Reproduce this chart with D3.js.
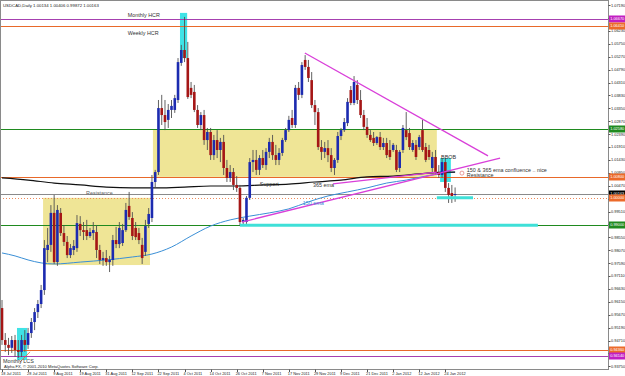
<!DOCTYPE html>
<html>
<head>
<meta charset="utf-8">
<style>
  body { margin: 0; background: #fff; }
  svg { display: block; font-family: "Liberation Sans", Arial, sans-serif; }
  .lbl { font-size: 5.4px; fill: #333; }
  .axis text { font-size: 3.9px; fill: #222; }
  .tag text { font-size: 3.9px; fill: #fff; }
</style>
</head>
<body>
<script src="https://d3js.org/d3.v7.min.js"></script>
<script>
// USDCAD daily, 18 Jul 2011 .. 27 Jan 2012, one row per bar: open, high, low, close
var ohlc = [
  [0.9592,0.9622,0.9455,0.9473],[0.9473,0.9499,0.9429,0.9455],[0.9455,0.9481,0.9417,0.9444],[0.9444,0.9488,0.9425,0.9473],
  [0.9473,0.9492,0.9410,0.9436],[0.9436,0.9473,0.9406,0.9429],[0.9429,0.9492,0.9410,0.9473],[0.9473,0.9510,0.9429,0.9455],
  [0.9455,0.9518,0.9440,0.9499],[0.9499,0.9555,0.9481,0.9540],[0.9540,0.9592,0.9510,0.9577],[0.9577,0.9622,0.9555,0.9607],
  [0.9607,0.9678,0.9592,0.9659],[0.9659,0.9845,0.9641,0.9815],[0.9808,0.9890,0.9763,0.9827],[0.9827,0.9975,0.9801,0.9946],
  [0.9946,1.0013,0.9756,0.9763],[0.9763,0.9975,0.9749,0.9957],[0.9946,0.9964,0.9860,0.9871],[0.9871,0.9901,0.9823,0.9838],
  [0.9838,0.9860,0.9778,0.9789],[0.9789,0.9830,0.9778,0.9815],[0.9808,0.9845,0.9789,0.9823],[0.9815,0.9938,0.9801,0.9908],
  [0.9905,0.9934,0.9860,0.9882],[0.9882,0.9912,0.9845,0.9875],[0.9882,0.9920,0.9845,0.9860],[0.9860,0.9890,0.9853,0.9875],
  [0.9871,0.9912,0.9845,0.9882],[0.9875,0.9901,0.9778,0.9808],[0.9808,0.9827,0.9756,0.9771],[0.9771,0.9801,0.9749,0.9778],
  [0.9778,0.9808,0.9749,0.9763],[0.9763,0.9786,0.9726,0.9771],[0.9771,0.9864,0.9749,0.9845],[0.9845,0.9894,0.9815,0.9830],
  [0.9830,0.9912,0.9815,0.9890],[0.9834,0.9905,0.9823,0.9882],[0.9882,0.9983,0.9875,0.9957],[0.9972,1.0024,0.9920,0.9931],
  [0.9927,0.9949,0.9845,0.9860],[0.9890,0.9912,0.9845,0.9856],[0.9871,0.9890,0.9830,0.9845],[0.9827,0.9853,0.9756,0.9778],
  [0.9801,0.9920,0.9786,0.9897],[0.9905,0.9964,0.9890,0.9942],[0.9927,1.0087,0.9912,1.0061],[1.0061,1.0106,1.0039,1.0098],
  [1.0098,1.0366,1.0087,1.0336],[1.0336,1.0385,1.0273,1.0310],[1.0310,1.0366,1.0254,1.0284],[1.0292,1.0351,1.0262,1.0329],
  [1.0329,1.0366,1.0299,1.0344],[1.0329,1.0385,1.0318,1.0373],[1.0366,1.0522,1.0355,1.0507],[1.0504,1.0571,1.0493,1.0552],
  [1.0552,1.0675,1.0507,1.0522],[1.0522,1.0582,1.0370,1.0377],[1.0411,1.0433,1.0373,1.0385],[1.0396,1.0422,1.0321,1.0329],
  [1.0329,1.0347,1.0262,1.0273],[1.0273,1.0321,1.0254,1.0310],[1.0310,1.0329,1.0199,1.0217],[1.0217,1.0262,1.0180,1.0247],
  [1.0247,1.0262,1.0143,1.0161],[1.0161,1.0236,1.0143,1.0217],[1.0217,1.0254,1.0150,1.0180],[1.0180,1.0225,1.0135,1.0210],
  [1.0210,1.0236,1.0087,1.0113],[1.0113,1.0143,1.0061,1.0076],[1.0076,1.0124,1.0061,1.0098],[1.0098,1.0113,1.0031,1.0050],
  [1.0050,1.0083,1.0024,1.0039],[1.0039,1.0050,0.9897,0.9912],[0.9912,0.9927,0.9897,0.9920],[0.9912,1.0009,0.9905,1.0002],
  [1.0002,1.0150,0.9994,1.0135],[1.0135,1.0180,1.0098,1.0143],[1.0143,1.0180,1.0087,1.0106],[1.0106,1.0161,1.0087,1.0150],
  [1.0150,1.0180,1.0113,1.0124],[1.0124,1.0187,1.0106,1.0173],[1.0173,1.0225,1.0150,1.0210],[1.0210,1.0236,1.0143,1.0161],
  [1.0161,1.0199,1.0124,1.0143],[1.0143,1.0187,1.0124,1.0169],[1.0169,1.0225,1.0158,1.0217],[1.0217,1.0262,1.0210,1.0254],
  [1.0254,1.0307,1.0247,1.0292],[1.0299,1.0329,1.0262,1.0273],[1.0273,1.0422,1.0262,1.0411],[1.0411,1.0433,1.0366,1.0385],
  [1.0385,1.0507,1.0373,1.0496],[1.0515,1.0533,1.0478,1.0489],[1.0489,1.0515,1.0433,1.0448],[1.0440,1.0470,1.0336,1.0347],
  [1.0347,1.0366,1.0273,1.0321],[1.0321,1.0336,1.0180,1.0191],[1.0191,1.0217,1.0143,1.0173],[1.0173,1.0210,1.0150,1.0187],
  [1.0187,1.0217,1.0135,1.0161],[1.0161,1.0187,1.0098,1.0113],[1.0113,1.0150,1.0087,1.0143],[1.0143,1.0247,1.0132,1.0232],
  [1.0232,1.0262,1.0217,1.0254],[1.0254,1.0299,1.0247,1.0284],[1.0280,1.0373,1.0269,1.0359],[1.0403,1.0418,1.0347,1.0355],
  [1.0355,1.0455,1.0347,1.0433],[1.0422,1.0440,1.0351,1.0366],[1.0366,1.0403,1.0299,1.0310],[1.0310,1.0329,1.0254,1.0266],
  [1.0266,1.0299,1.0225,1.0236],[1.0236,1.0254,1.0210,1.0217],[1.0225,1.0247,1.0195,1.0206],[1.0206,1.0232,1.0199,1.0228],
  [1.0228,1.0247,1.0180,1.0191],[1.0191,1.0225,1.0180,1.0206],[1.0206,1.0225,1.0150,1.0161],[1.0180,1.0217,1.0143,1.0154],
  [1.0180,1.0206,1.0173,1.0199],[1.0180,1.0199,1.0098,1.0106],[1.0113,1.0180,1.0098,1.0173],[1.0180,1.0273,1.0169,1.0262],
  [1.0254,1.0321,1.0217,1.0228],[1.0243,1.0262,1.0180,1.0191],[1.0180,1.0217,1.0173,1.0206],[1.0199,1.0217,1.0143,1.0154],
  [1.0191,1.0236,1.0180,1.0228],[1.0254,1.0292,1.0173,1.0180],[1.0191,1.0206,1.0135,1.0143],[1.0180,1.0199,1.0143,1.0154],
  [1.0113,1.0173,1.0098,1.0154],[1.0154,1.0180,1.0087,1.0098],[1.0098,1.0124,1.0076,1.0087],[1.0087,1.0150,1.0076,1.0135],
  [1.0135,1.0150,1.0024,1.0039],[1.0039,1.0057,0.9983,1.0013],[1.0020,1.0050,0.9983,1.0009],[1.00134,1.00406,0.99872,1.00163]
];

// date labels on the time axis and the bar they sit on
var dateLabels = ["18 Jul 2011","28 Jul 2011","9 Aug 2011","19 Aug 2011","31 Aug 2011","12 Sep 2011",
  "22 Sep 2011","4 Oct 2011","14 Oct 2011","26 Oct 2011","7 Nov 2011","17 Nov 2011","29 Nov 2011",
  "9 Dec 2011","21 Dec 2011","2 Jan 2012","12 Jan 2012","24 Jan 2012"];
var dateBars = [0,8,16,24,32,40,48,56,64,72,80,88,96,104,112,120,128,136];

// price scale labels
var priceTicks = [1.07190,1.06710,1.06230,1.05750,1.05270,1.04790,1.04310,1.03830,1.03350,1.02870,
  1.02390,1.01910,1.01430,1.00950,1.00470,0.99990,0.99510,0.99030,0.98550,0.98070,0.97590,0.97110,
  0.96630,0.96150,0.95670,0.95190,0.94710,0.94230,0.93750];

// moving averages at some bars
var ema365Bars = [0,8,16,24,32,40,48,56,64,72,80,88,96,104,112,120,128,136,139];
var ema365 = [1.0076,1.0068,1.0057,1.0050,1.0042,1.0039,1.0039,1.0042,1.0046,1.0046,1.0050,1.0053,
  1.0061,1.0068,1.0080,1.0083,1.0091,1.0098,1.0098];
var ema150Bars = [0,4,8,12,16,24,32,40,46,52,58,64,70,76,82,88,94,100,106,112,118,124,130,136,139];
var ema150 = [0.9797,0.9786,0.9771,0.9760,0.9756,0.9763,0.9771,0.9782,0.9793,0.9819,0.9860,0.9897,
  0.9920,0.9934,0.9946,0.9961,0.9987,1.0009,1.0024,1.0039,1.0057,1.0068,1.0083,1.0094,1.0098];

// horizontal levels
var monthlyHCR = 1.0667, weeklyHCR = 1.0641, upperGreen = 1.0258, midOrange = 1.0080,
    parity = 1.0000, lowerGreen = 0.9900, lowOrange = 0.9436, monthlyLCS = 0.9414, bid = 1.00163;

// drawn objects: [bar from, bar to, price top, price bottom]
var yellowZones = [[12.6, 45.4, 1.0002, 0.9752], [46.3, 133.4, 1.0258, 1.0080]];
var cyanZones = [[54.6, 56.8, 1.0690, 1.0522], [4.6, 7.7, 0.9518, 0.9399], [134.4, 137.7, 1.0150, 1.0061]];
// trendlines: [[bar, price], [bar, price]]
var falling = [[92.9, 1.0541], [149.1, 1.0158]];
var rising = [[73.6, 0.9912], [152.8, 1.0150]];
var emaLine = [[101.5, 1.0054], [133.4, 1.0098]];
var lcsTick = [[5.5, 0.9391], [8.6, 0.9429]];
// cyan bars: [bar from, bar to, price]
var cyanBars = [[73, 164.4, 0.9900], [133.4, 144.5, 1.0002]];

var width = 625, height = 376, plotR = 608, plotB = 369;

var x = d3.scaleLinear().domain([0, 139]).range([2, 455.1]);
var y = d3.scaleLinear().domain([0.9369, 1.0738]).range([368, 0]);

var svg = d3.select("body").append("svg").attr("width", width).attr("height", height);

svg.append("defs").append("clipPath").attr("id", "plot")
  .append("rect").attr("x", 0).attr("y", 0).attr("width", plotR).attr("height", plotB);

var g = svg.append("g").attr("clip-path", "url(#plot)");

function zone(arr, fill) {
  g.selectAll(null).data(arr).enter().append("rect")
    .attr("x", function (d) { return x(d[0]); })
    .attr("width", function (d) { return x(d[1]) - x(d[0]); })
    .attr("y", function (d) { return y(d[2]); })
    .attr("height", function (d) { return y(d[3]) - y(d[2]); })
    .attr("fill", fill);
}
zone(yellowZones, "#efe596");
zone(cyanZones, "#3fe3e6");

function hline(p, color, dash) {
  g.append("line").attr("x1", 0).attr("x2", plotR)
    .attr("y1", Math.round(y(p)) + 0.5).attr("y2", Math.round(y(p)) + 0.5)
    .attr("stroke", color).attr("stroke-width", 1)
    .attr("stroke-dasharray", dash || null);
}
hline(monthlyHCR, "#a640b0");
hline(weeklyHCR, "#e8692a");
hline(upperGreen, "#1f8a1f");
hline(midOrange, "#e8692a");
hline(bid, "#8a8a8a");
hline(parity, "#f08a5a", "1,2");
hline(lowerGreen, "#1f8a1f");
hline(lowOrange, "#e8692a");
hline(monthlyLCS, "#a640b0");

// moving averages
var line = d3.line().curve(d3.curveMonotoneX)
  .x(function (d) { return x(d[0]); }).y(function (d) { return y(d[1]); });
g.append("path").attr("d", line(d3.zip(ema150Bars, ema150)))
  .attr("fill", "none").attr("stroke", "#3a8fd6").attr("stroke-width", 1);
g.append("path").attr("d", line(d3.zip(ema365Bars, ema365)))
  .attr("fill", "none").attr("stroke", "#111").attr("stroke-width", 1.2);

// candles
var candle = g.selectAll(".candle").data(ohlc).enter().append("g").attr("class", "candle");
candle.append("line")
  .attr("x1", function (d, i) { return x(i); }).attr("x2", function (d, i) { return x(i); })
  .attr("y1", function (d) { return y(d[1]); }).attr("y2", function (d) { return y(d[2]); })
  .attr("stroke", "#505050").attr("stroke-width", 0.9);
candle.append("rect")
  .attr("x", function (d, i) { return x(i) - 1.3; })
  .attr("width", 2.6)
  .attr("y", function (d) { return y(Math.max(d[0], d[3])); })
  .attr("height", function (d) { return Math.max(1, Math.abs(y(d[0]) - y(d[3]))); })
  .attr("fill", function (d) { return d[3] >= d[0] ? "#1c2bb0" : "#a51616"; });

// trendlines
function seg(pts, color, w) {
  g.append("line")
    .attr("x1", x(pts[0][0])).attr("y1", y(pts[0][1]))
    .attr("x2", x(pts[1][0])).attr("y2", y(pts[1][1]))
    .attr("stroke", color).attr("stroke-width", w);
}
seg(falling, "#d93fd9", 1.3);
seg(rising, "#d93fd9", 1.3);
seg(emaLine, "#d93fd9", 1.3);
seg(lcsTick, "#e8692a", 0.8);

g.selectAll(null).data(cyanBars).enter().append("line")
  .attr("x1", function (d) { return x(d[0]); }).attr("x2", function (d) { return x(d[1]); })
  .attr("y1", function (d) { return y(d[2]); }).attr("y2", function (d) { return y(d[2]); })
  .attr("stroke", "#3fe0d8").attr("stroke-width", 3);

// text objects
function note(bar, price, txt, color) {
  g.append("text").attr("class", "lbl").attr("x", x(bar)).attr("y", y(price))
    .style("fill", color || null).text(txt);
}
note(38.6, 1.0675, "Monthly HCR");
note(38.6, 1.0608, "Weekly HCR");
note(25.8, 1.0013, "Resistance", "#666");
note(79.1, 1.0046, "Support");
note(95.4, 1.0042, "365 ema");
note(92.3, 0.9975, "150 ema", "#3a8fd6");
note(134.7, 1.0147, "BBOB");
note(142.6, 1.0098, "150 & 365 ema confluence .. nice");
note(142.6, 1.0080, "Resistance");
note(0.3, 0.9387, "Monthly LCS");
g.append("circle").attr("cx", x(141.1)).attr("cy", y(1.0094)).attr("r", 2)
  .attr("fill", "none").attr("stroke", "#e07070").attr("stroke-width", 0.7);

svg.append("text").attr("x", 3).attr("y", 7).style("font-size", "4.3px").style("fill", "#222")
  .text("USDCAD,Daily  1.00134 1.00406 0.99872 1.00163");
svg.append("text").attr("x", 4).attr("y", 367.5).style("font-size", "4.1px").style("fill", "#222")
  .text("Alpha FX, \u00a9 2001-2010 MetaQuotes Software Corp.");

// frame
svg.append("rect").attr("x", 0.5).attr("y", 0.5).attr("width", plotR).attr("height", plotB)
  .attr("fill", "none").attr("stroke", "#8a8a8a").attr("stroke-width", 1);

// price axis
var axisR = svg.append("g").attr("class", "axis");
axisR.selectAll("line").data(priceTicks).enter().append("line")
  .attr("x1", plotR + 0.5).attr("x2", plotR + 2.5)
  .attr("y1", function (d) { return Math.round(y(d)) + 0.5; })
  .attr("y2", function (d) { return Math.round(y(d)) + 0.5; })
  .attr("stroke", "#555");
axisR.selectAll("text").data(priceTicks).enter().append("text")
  .attr("x", plotR + 3).attr("y", function (d) { return y(d) + 1.4; })
  .text(function (d) { return d.toFixed(5); });

// time axis
var axisB = svg.append("g").attr("class", "axis");
axisB.selectAll("line").data(dateBars).enter().append("line")
  .attr("x1", function (d) { return Math.round(x(d)) + 0.5; })
  .attr("x2", function (d) { return Math.round(x(d)) + 0.5; })
  .attr("y1", plotB + 0.5).attr("y2", plotB + 3).attr("stroke", "#555");
axisB.selectAll("text").data(dateLabels).enter().append("text")
  .attr("x", function (d, i) { return x(dateBars[i]) - 1; })
  .attr("y", 375)
  .text(function (d) { return d; });

// price tags on the right
var tags = [[monthlyHCR, "#c21fc2"], [weeklyHCR, "#ec6a2a"], [upperGreen, "#1f8a1f"], [midOrange, "#ec6a2a"],
  [bid, "#000"], [parity, "#ec6a2a"], [lowerGreen, "#1f8a1f"], [lowOrange, "#ec6a2a"], [monthlyLCS, "#c21fc2"]];
var tag = svg.append("g").attr("class", "tag").selectAll("g").data(tags).enter().append("g")
  .attr("transform", function (d) { return "translate(" + (plotR + 1) + "," + Math.round(y(d[0])) + ")"; });
tag.append("rect").attr("x", 0).attr("y", -3.5).attr("width", 16).attr("height", 7)
  .attr("fill", function (d) { return d[1]; });
tag.append("text").attr("x", 1.2).attr("y", 1.4)
  .text(function (d) { return d[0].toFixed(5); });
</script>
</body>
</html>
